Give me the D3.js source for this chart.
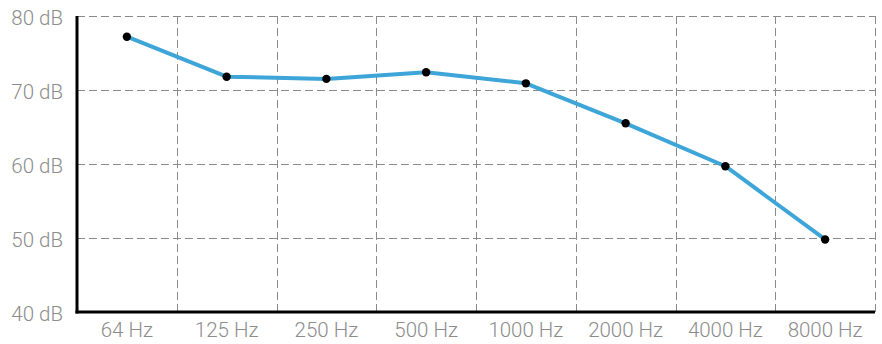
<!DOCTYPE html>
<html>
<head>
<meta charset="utf-8">
<script src="https://cdn.jsdelivr.net/npm/d3@7"></script>
<style>
  html, body { margin: 0; padding: 0; background: #fff; }
  svg { display: block; }
  .tick-label { font-family: Roboto, "Open Sans", sans-serif; font-weight: 300; fill: #8c8c8c; }
</style>
</head>
<body>
<svg id="chart" width="882" height="344"></svg>
<script>
// Frequency bands and measured level per band
const frequencies = ["64 Hz", "125 Hz", "250 Hz", "500 Hz", "1000 Hz", "2000 Hz", "4000 Hz", "8000 Hz"];
const levels = [77.2, 71.8, 71.5, 72.4, 70.9, 65.5, 59.7, 49.8];
const yTicks = [40, 50, 60, 70, 80];
const yTickLabels = ["40 dB", "50 dB", "60 dB", "70 dB", "80 dB"];

const svg = d3.select("#chart");
const margin = { left: 77, right: 7, top: 16, bottom: 32 };
const W = 882, H = 344;

const x = d3.scaleBand().domain(frequencies).range([margin.left, W - margin.right]).paddingInner(0).paddingOuter(0);
const y = d3.scaleLinear().domain([40, 80]).range([H - margin.bottom, margin.top]);

const grid = svg.append("g").attr("stroke", "#8a8a8a").attr("stroke-width", 1).attr("stroke-dasharray", "8,4").attr("fill", "none");

// horizontal grid lines at each dB tick (except baseline)
yTicks.filter(t => t > 40).forEach(t => {
  grid.append("line")
    .attr("x1", margin.left).attr("x2", W - margin.right)
    .attr("y1", Math.round(y(t)) + 0.5).attr("y2", Math.round(y(t)) + 0.5);
});
// vertical grid lines at band boundaries
frequencies.forEach(f => {
  const xb = Math.round(x(f) + x.bandwidth()) + 0.5;
  grid.append("line")
    .attr("x1", xb).attr("x2", xb)
    .attr("y1", margin.top).attr("y2", H - margin.bottom);
});

// axes lines
svg.append("line")
  .attr("x1", margin.left).attr("x2", margin.left)
  .attr("y1", margin.top).attr("y2", H - margin.bottom + 1.5)
  .attr("stroke", "#000").attr("stroke-width", 3);
svg.append("line")
  .attr("x1", margin.left - 1.5).attr("x2", W - margin.right)
  .attr("y1", H - margin.bottom).attr("y2", H - margin.bottom)
  .attr("stroke", "#000").attr("stroke-width", 3);

// y tick labels
svg.append("g").selectAll("text").data(yTicks).join("text")
  .attr("class", "tick-label")
  .attr("x", 63)
  .attr("y", d => y(d) + 2)
  .attr("dy", "0.35em")
  .attr("text-anchor", "end")
  .attr("font-size", 20.5)
  .text((d, i) => yTickLabels[i]);

// x tick labels
svg.append("g").selectAll("text").data(frequencies).join("text")
  .attr("class", "tick-label")
  .attr("x", d => x(d) + x.bandwidth() / 2)
  .attr("y", 330)
  .attr("dy", "0.35em")
  .attr("text-anchor", "middle")
  .attr("font-size", 20.5)
  .text(d => d);

// level line
const line = d3.line().x((d, i) => x(frequencies[i]) + x.bandwidth() / 2).y(d => y(d));
svg.append("path")
  .datum(levels)
  .attr("d", line)
  .attr("fill", "none")
  .attr("stroke", "#3ea5d8")
  .attr("stroke-width", 4)
  .attr("stroke-linejoin", "round");

// points
svg.append("g").selectAll("circle").data(levels).join("circle")
  .attr("cx", (d, i) => x(frequencies[i]) + x.bandwidth() / 2)
  .attr("cy", d => y(d))
  .attr("r", 4.2)
  .attr("fill", "#000");
</script>
</body>
</html>
